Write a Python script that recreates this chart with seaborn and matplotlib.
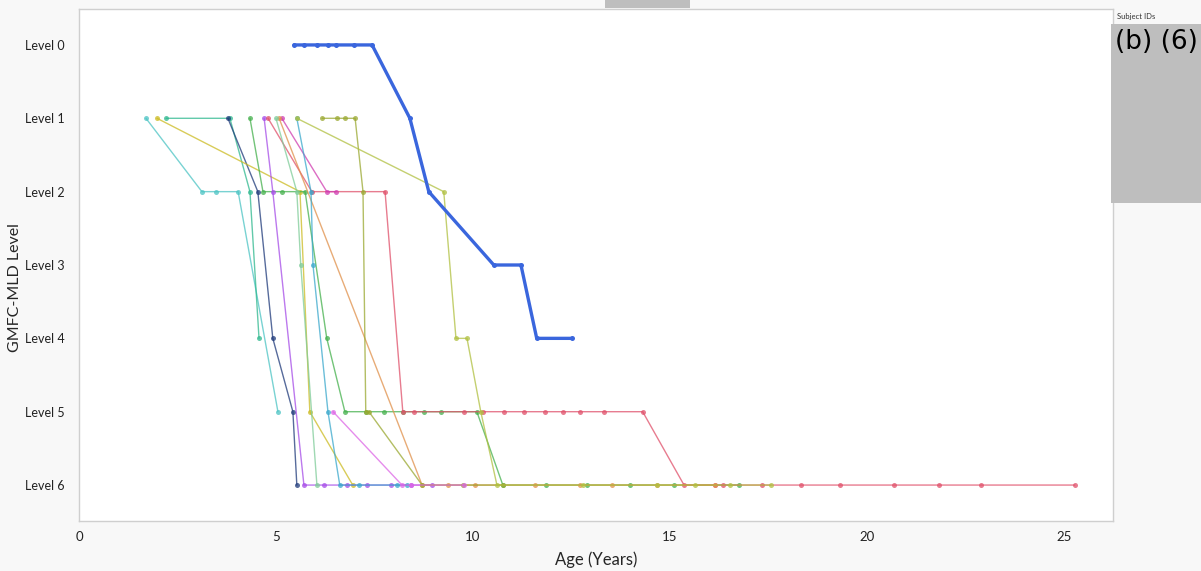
import numpy as np
import pandas as pd
import matplotlib
matplotlib.use("Agg")
import matplotlib.pyplot as plt
import seaborn as sns
from matplotlib.patches import Rectangle

# ---------------- data ----------------
level_labels = ["Level 0", "Level 1", "Level 2", "Level 3", "Level 4", "Level 5", "Level 6"]

# highlighted subject (thick blue)
blue_age = [5.46, 5.71, 6.04, 6.32, 6.52, 6.98, 7.44, 8.40, 8.88, 10.53, 11.22, 11.62, 12.51]
blue_lvl = [0, 0, 0, 0, 0, 0, 0, 1, 2, 3, 3, 4, 4]

s02_age = [1.70, 3.12, 3.48, 4.04, 5.05]
s02_lvl = [1, 2, 2, 2, 5]
s03_age = [2.21, 3.83, 4.34, 4.57]
s03_lvl = [1, 1, 2, 4]
s04_age = [3.78, 4.54, 4.92, 5.43, 5.53]
s04_lvl = [1, 2, 4, 5, 6]
s05_age = [1.98, 5.61, 5.86, 6.95]
s05_lvl = [1, 2, 5, 6]
s06_age = [4.34, 4.67, 5.15, 5.74, 6.29, 6.75, 7.28, 7.74, 8.22, 8.76, 9.19, 10.10,
           10.76, 11.85, 12.89, 13.98, 15.10, 16.75]
s06_lvl = [1, 2, 2, 2, 4, 5, 5, 5, 5, 5, 5, 5, 6, 6, 6, 6, 6, 6]
s07_age = [4.70, 4.92, 5.71, 6.22, 6.80, 7.31, 7.92, 8.43, 8.96]
s07_lvl = [1, 2, 6, 6, 6, 6, 6, 6, 6]
s08_age = [4.80, 5.91, 7.77, 8.22, 8.50, 9.77, 10.25, 10.79, 11.29, 11.83, 12.28, 12.72,
           13.32, 14.31, 15.36, 16.14, 16.35, 17.34, 18.32, 19.31, 20.69, 21.83, 22.89, 25.28]
s08_lvl = [1, 2, 2, 5, 5, 5, 5, 5, 5, 5, 5, 5, 5, 5, 6, 6, 6, 6, 6, 6, 6, 6, 6, 6]
s09_age = [5.15, 6.29, 6.52]
s09_lvl = [1, 2, 2]
s10_age = [5.08, 8.71, 9.37, 10.05, 11.57, 12.72, 13.53, 14.67, 16.14]
s10_lvl = [1, 6, 6, 6, 6, 6, 6, 6, 6]
s11_age = [5.53, 5.89, 5.94, 6.32, 6.62, 7.11, 8.07, 8.32]
s11_lvl = [1, 2, 3, 5, 6, 6, 6, 6]
s12_age = [5.00, 5.53, 5.63, 6.04]
s12_lvl = [1, 2, 3, 6]
s13_age = [6.17, 6.55, 6.75, 7.01, 7.21, 7.28, 7.36, 8.71, 9.75, 10.76]
s13_lvl = [1, 1, 1, 1, 2, 5, 5, 6, 6, 6]
s14_age = [5.53, 9.26, 9.57, 9.85, 10.20, 10.61, 12.79, 14.67, 15.63, 16.52, 17.56]
s14_lvl = [1, 2, 4, 4, 5, 6, 6, 6, 6, 6, 6]
s15_age = [6.45, 8.20, 8.43, 9.77]
s15_lvl = [5, 6, 6, 6]

subjects = {
    "S02": (s02_age, s02_lvl), "S03": (s03_age, s03_lvl), "S04": (s04_age, s04_lvl),
    "S05": (s05_age, s05_lvl), "S06": (s06_age, s06_lvl), "S07": (s07_age, s07_lvl),
    "S08": (s08_age, s08_lvl), "S09": (s09_age, s09_lvl), "S10": (s10_age, s10_lvl),
    "S11": (s11_age, s11_lvl), "S12": (s12_age, s12_lvl), "S13": (s13_age, s13_lvl),
    "S14": (s14_age, s14_lvl), "S15": (s15_age, s15_lvl),
}
palette = {
    "S02": "#4CC4C4", "S03": "#2EB88E", "S04": "#1F3A7A", "S05": "#CCBB22",
    "S06": "#44B04C", "S07": "#A64CE8", "S08": "#E0506A", "S09": "#D03CB0",
    "S10": "#E0904A", "S11": "#3AA8CC", "S12": "#7FCC99", "S13": "#9AA830",
    "S14": "#B0C040", "S15": "#DD66E6",
}

x_ticks = [0, 5, 10, 15, 20, 25]

rows = []
for sid, (ages, lvls) in subjects.items():
    for a, l in zip(ages, lvls):
        rows.append({"Subject": sid, "Age": a, "Level": l})
df = pd.DataFrame(rows)
df_blue = pd.DataFrame({"Age": blue_age, "Level": blue_lvl})

# ---------------- plot ----------------
sns.set_style("white")
plt.rcParams["font.family"] = ["Lato", "DejaVu Sans"]

fig = plt.figure(figsize=(12.01, 5.71), dpi=100, facecolor="#F8F8F8")
ax = fig.add_axes([79 / 1201, 1 - 521 / 571, (1113 - 79) / 1201, (521 - 9) / 571])
ax.set_facecolor("white")

sns.lineplot(data=df, x="Age", y="Level", hue="Subject", palette=palette,
             units="Subject", estimator=None, sort=False, marker="o",
             markersize=3.6, markeredgewidth=0, linewidth=1.0, alpha=0.75,
             legend=False, ax=ax)
sns.lineplot(data=df_blue, x="Age", y="Level", color="#3A66DD", estimator=None,
             sort=False, marker="o", markersize=3.6, markeredgewidth=0,
             linewidth=2.4, ax=ax)

ax.set_xlim(0, 26.25)
ax.set_ylim(6.49, -0.49)
ax.set_xticks(x_ticks)
ax.set_xticklabels([str(t) for t in x_ticks], fontsize=9.5)
ax.set_yticks(range(len(level_labels)))
ax.set_yticklabels(level_labels, fontsize=9)
ax.tick_params(axis="x", length=3, color="#888888", pad=4, labelcolor="#222222")
ax.tick_params(axis="y", length=0, pad=10, labelcolor="#222222")
ax.set_xlabel("Age (Years)", fontsize=12)
ax.set_ylabel("GMFC-MLD Level", fontsize=11.5)
ax.xaxis.set_label_coords((596 - 79) / 1034, (521 - 551) / 512)
ax.yaxis.set_label_coords((22 - 79) / 1034, (521 - 288) / 512)
for sp in ax.spines.values():
    sp.set_color("#CFCFCF")
    sp.set_linewidth(1.0)

# legend area (redacted)
fig.text(1117 / 1201, 1 - 17 / 571, "Subject IDs", fontsize=5.5, va="center", ha="left",
         color="#333333")
fig.patches.append(Rectangle((1111 / 1201, 1 - 203 / 571), 90 / 1201, 179 / 571,
                             transform=fig.transFigure, facecolor="#BEBEBE",
                             edgecolor="none", zorder=5))
fig.text(1156 / 1201, 1 - 42 / 571, "(b) (6)", fontsize=19, ha="center", va="center",
         color="black", zorder=6, family=["DejaVu Sans"])
# clipped redacted title box at the very top
fig.patches.append(Rectangle((605 / 1201, 1 - 8 / 571), 85 / 1201, 8 / 571,
                             transform=fig.transFigure, facecolor="#BEBEBE",
                             edgecolor="none", zorder=5))

fig.savefig("out.png", dpi=100, facecolor=fig.get_facecolor())
